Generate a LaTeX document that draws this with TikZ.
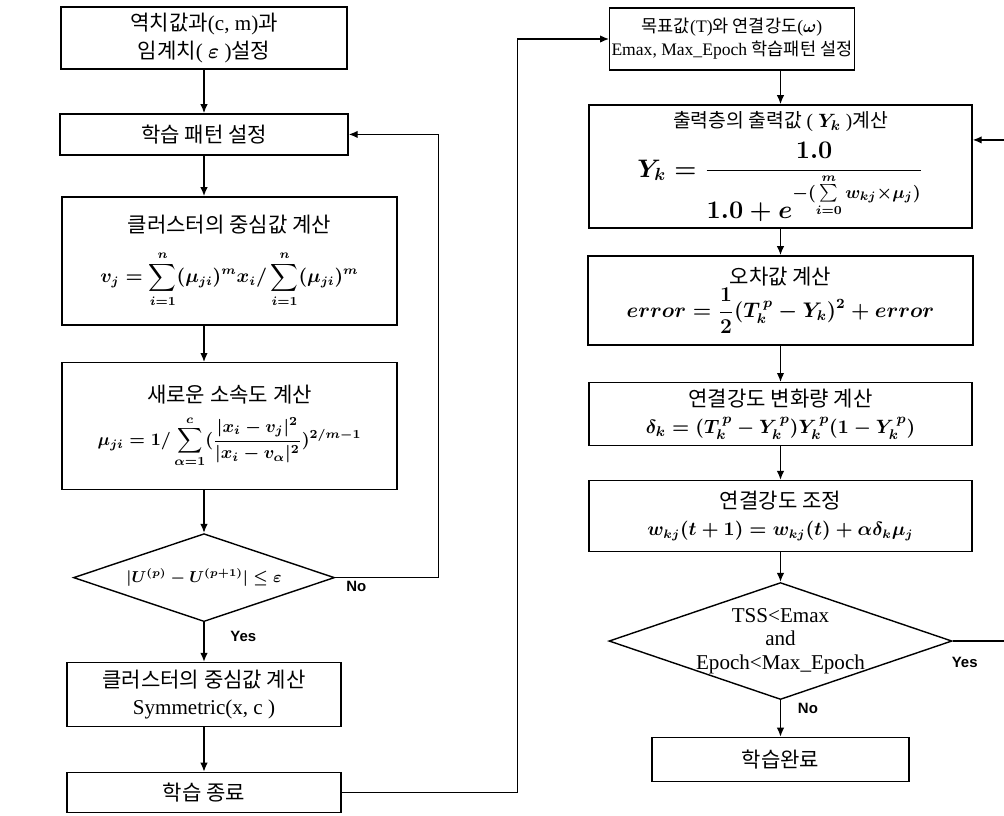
\documentclass[tikz,border=0pt]{standalone}
\usepackage{amsmath}
\usepackage[no-math]{fontspec}
\setmainfont{Liberation Serif}
\newfontfamily\kr{Noto Sans CJK KR}
\newfontfamily\lblsans{Liberation Sans}
\usetikzlibrary{positioning,arrows.meta,shapes.geometric}

\begin{document}
\begin{tikzpicture}[
        box/.style={rectangle, draw, line width=0.8pt, align=center, inner sep=1pt, font=\fontsize{12}{15.5}\selectfont},
        dec/.style={diamond, draw, aspect=3, line width=0.8pt, align=center, inner sep=0pt, font=\fontsize{12}{13.5}\selectfont},
        arr/.style={-{Latex[length=1.8mm,width=1.5mm]}, line width=0.8pt},
        lbl/.style={font=\lblsans\bfseries\fontsize{8.5}{10}\selectfont, inner sep=1pt},
    ]
    \useasboundingbox (0,0) rectangle (20.08,-16.3);

    % Left column: fuzzy clustering
    \node[box, minimum width=5.72cm, minimum height=1.24cm] (init) at (4.08,-0.76) {{\kr 역치값과}(c, m){\kr 과}\\{\kr 임계치}( {\boldmath$\varepsilon$} ){\kr 설정}};
    \node[box, below=0.87cm of init, minimum width=5.76cm, minimum height=0.82cm] (pat) {{\kr 학습 패턴 설정}};
    \node[box, below=0.81cm of pat, xshift=0.51cm, minimum width=6.7cm, minimum height=2.56cm] (cent) {{\kr 클러스터의 중심값 계산}\\[9pt]{\fontsize{10.5}{12}\selectfont\boldmath$\displaystyle v_j=\sum_{i=1}^{n}(\mu_{ji})^m x_i/\sum_{i=1}^{n}(\mu_{ji})^m$}};
    \node[box, below=0.73cm of cent, minimum width=6.7cm, minimum height=2.54cm] (memb) {{\kr 새로운 소속도 계산}\\[6pt]{\fontsize{10}{12}\selectfont\boldmath$\displaystyle \mu_{ji}=1/\sum_{\alpha=1}^{c}(\frac{|x_i-v_j|^2}{|x_i-v_\alpha|^2})^{2/m-1}$}};
    \node[dec, below=0.85cm of memb, xshift=-0.51cm, minimum width=5.22cm, minimum height=1.76cm] (conv) {{\fontsize{9}{11}\selectfont\boldmath$|U^{(p)}-U^{(p+1)}|\le\varepsilon$}};
    \node[box, below=0.79cm of conv, minimum width=5.48cm, minimum height=1.28cm] (sym) {{\kr 클러스터의 중심값 계산}\\Symmetric(x, c )};
    \node[box, below=0.89cm of sym, minimum width=5.48cm, minimum height=0.8cm] (fin) {{\kr 학습 종료}};

    \draw[arr] (init) -- (pat);
    \draw[arr] (pat.south) -- (pat.south |- cent.north);
    \draw[arr] (pat.south |- cent.south) -- (pat.south |- memb.north);
    \draw[arr] (conv.north |- memb.south) -- (conv.north);
    \draw[arr] (conv.south) -- node[lbl, pos=0.35, right=0.48cm] (yes1) {Yes} (sym.north);
    \draw[arr] (sym) -- (fin);
    \draw[arr] (conv.east) -- ++(2.06,0) |- (pat.east);
    \node[lbl, below right=0.02cm and 0.18cm of conv.east] (no1) {No};

    % Right column: back-propagation learning
    \node[box, minimum width=4.7cm, minimum height=1.24cm, font=\fontsize{10}{13}\selectfont] (tgt) at (14.64,-0.78) {{\kr 목표값}(T){\kr 와 연결강도}({\boldmath$\omega$})\\Emax, Max\_Epoch {\kr 학습패턴 설정}};
    \node[box, below=0.67cm of tgt, xshift=0.97cm, minimum width=7.66cm, minimum height=2.46cm] (outp) {{\fontsize{11}{14}\selectfont{\kr 출력층의 출력값} ( {\boldmath$Y_k$} ){\kr 계산}}\\[5pt]{\fontsize{14}{16}\selectfont\boldmath$\displaystyle Y_k=\frac{1.0}{1.0+e^{-(\sum\limits_{i=0}^{m} w_{kj}\times\mu_j)}}$}};
    \node[box, below=0.53cm of outp, minimum width=7.7cm, minimum height=1.78cm] (err) {{\kr 오차값 계산}\\{\boldmath$\displaystyle error=\frac{1}{2}(T_k^{\,p}-Y_k)^2+error$}};
    \node[box, below=0.73cm of err, minimum width=7.66cm, minimum height=1.26cm] (dlt) {{\kr 연결강도 변화량 계산}\\{\fontsize{11}{13}\selectfont\boldmath$\delta_k=(T_k^{\,p}-Y_k^{\,p})Y_k^{\,p}(1-Y_k^{\,p})$}};
    \node[box, below=0.67cm of dlt, minimum width=7.66cm, minimum height=1.42cm] (upd) {{\kr 연결강도 조정}\\{\fontsize{10.5}{13}\selectfont\boldmath$w_{kj}(t+1)=w_{kj}(t)+\alpha\delta_k\mu_j$}};
    \node[dec, below=0.59cm of upd, minimum width=6.86cm, minimum height=2.34cm] (stop) {};
    \node[align=center, inner sep=0pt, font=\fontsize{12}{13.5}\selectfont] (stoptxt) at (stop) {TSS<Emax\\and\\Epoch<Max\_Epoch};
    \node[box, below=0.73cm of stop, minimum width=5.14cm, minimum height=0.88cm] (done) {{\kr 학습완료}};

    \draw[arr] (tgt.south -| outp.north) -- (outp.north);
    \draw[arr] (outp) -- (err);
    \draw[arr] (err) -- (dlt);
    \draw[arr] (dlt) -- (upd);
    \draw[arr] (upd) -- (stop);
    \draw[arr] (stop.south) -- node[lbl, pos=0.22, right=0.3cm] (no2) {No} (done.north);
    \draw[arr] (stop.east) -- ++(1.2,0) |- ([yshift=0.53cm]outp.east);
    \node[lbl, below right=0.28cm and -0.06cm of stop.east] (yes2) {Yes};

    % link between the two columns
    \draw[arr] (fin.east) -- ++(3.52,0) |- (tgt.west);

\end{tikzpicture}
\end{document}
